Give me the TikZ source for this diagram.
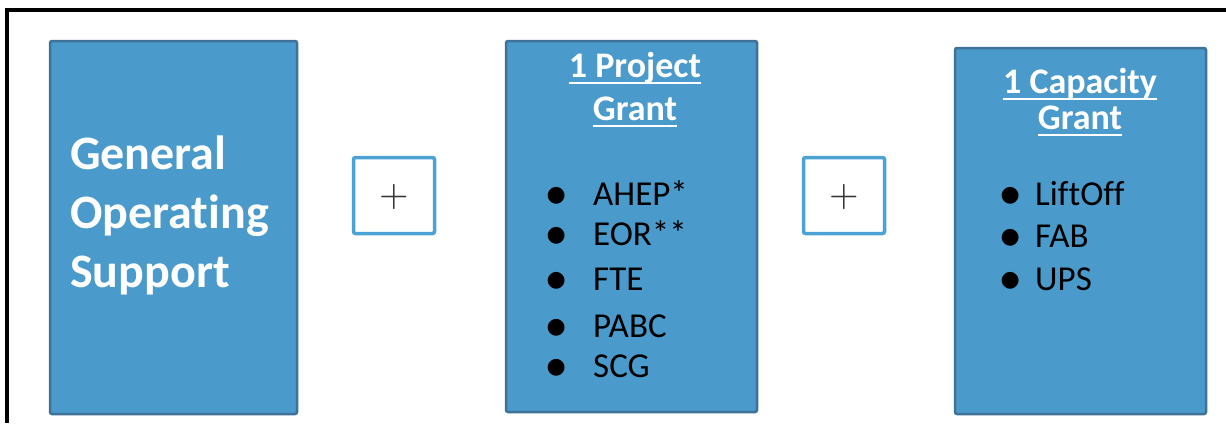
\documentclass[tikz,border=0pt]{standalone}
\usepackage{fontspec}
\setmainfont[Ligatures=NoCommon]{Carlito}
\newfontfamily\dotfont{DejaVu Sans}
\usetikzlibrary{positioning}

\definecolor{boxfill}{HTML}{4A9BCB}
\definecolor{boxline}{HTML}{3E7299}
\definecolor{plusline}{HTML}{4BA2D5}
\definecolor{plusmark}{HTML}{333333}

% underlined box title
\newcommand{\titleline}[1]{\setbox0\hbox{#1}\rlap{\rule[-6.5pt]{\wd0}{2pt}}\box0}
% list bullet set to the left of an item
\newcommand{\itemdot}[1]{\llap{\raisebox{4pt}{\dotfont\fontsize{22}{22}\selectfont ●}\hspace{#1}}}

\begin{document}
\begin{tikzpicture}[x=1pt,y=-1pt,
  grantbox/.style={draw=boxline,fill=boxfill,line width=2.5pt,rounded corners=2pt},
  plusbox/.style={draw=plusline,fill=white,line width=3.5pt,rounded corners=2pt,
    minimum width=81pt,minimum height=76pt,inner sep=0pt},
  plussign/.style={text=plusmark,inner sep=0pt},
  boxtitle/.style={text=white,font=\fontsize{36}{36}\selectfont\bfseries,inner sep=0pt,anchor=base},
  listitem/.style={text=black,font=\fontsize{35}{35}\selectfont,inner sep=0pt,anchor=base west}]
  \useasboundingbox (0,0) rectangle (1226,423);

  % frame
  \draw[line width=3.5pt] (7,423) -- (7,10) -- (1226,10);

  % boxes
  \draw[grantbox] (50,41) rectangle (297,414);
  \draw[grantbox] (506,41) rectangle (757,412);
  \draw[grantbox] (955,48) rectangle (1206,414);

  \node (gos) [text=white,font=\fontsize{48}{59}\selectfont\bfseries,align=left,
    inner sep=0pt,anchor=base west] at (70,287) {General\\Operating\\Support};

  \node (plus1) [plusbox] at (394,195.5) {};
  \node (plus1sign) [plussign] at (394,197) {\scalebox{3.8}{$+$}};
  \node (plus2) [plusbox] at (844,195.5) {};
  \node (plus2sign) [plussign] at (844,197) {\scalebox{3.8}{$+$}};

  % project grant
  \node (proj1) [boxtitle] at (635,77) {\titleline{1 Project}};
  \node (proj2) [boxtitle] at (635,120.5) {\titleline{Grant}};
  \node (ahep) [listitem] at (593,205) {\itemdot{27.5pt}AHEP*};
  \node (eor) [listitem] at (593,245) {\itemdot{27.5pt}EOR**};
  \node (fte) [listitem] at (593,290) {\itemdot{27.5pt}FTE};
  \node (pabc) [listitem] at (593,337) {\itemdot{27.5pt}PABC};
  \node (scg) [listitem] at (593,377) {\itemdot{27.5pt}SCG};

  % capacity grant
  \node (cap1) [boxtitle] at (1080,93) {\titleline{1 Capacity}};
  \node (cap2) [boxtitle] at (1080,129.5) {\titleline{Grant}};
  \node (liftoff) [listitem] at (1035,205) {\itemdot{15.5pt}LiftOff};
  \node (fab) [listitem] at (1035,247) {\itemdot{15.5pt}FAB};
  \node (ups) [listitem] at (1035,290) {\itemdot{15.5pt}UPS};
\end{tikzpicture}
\end{document}
